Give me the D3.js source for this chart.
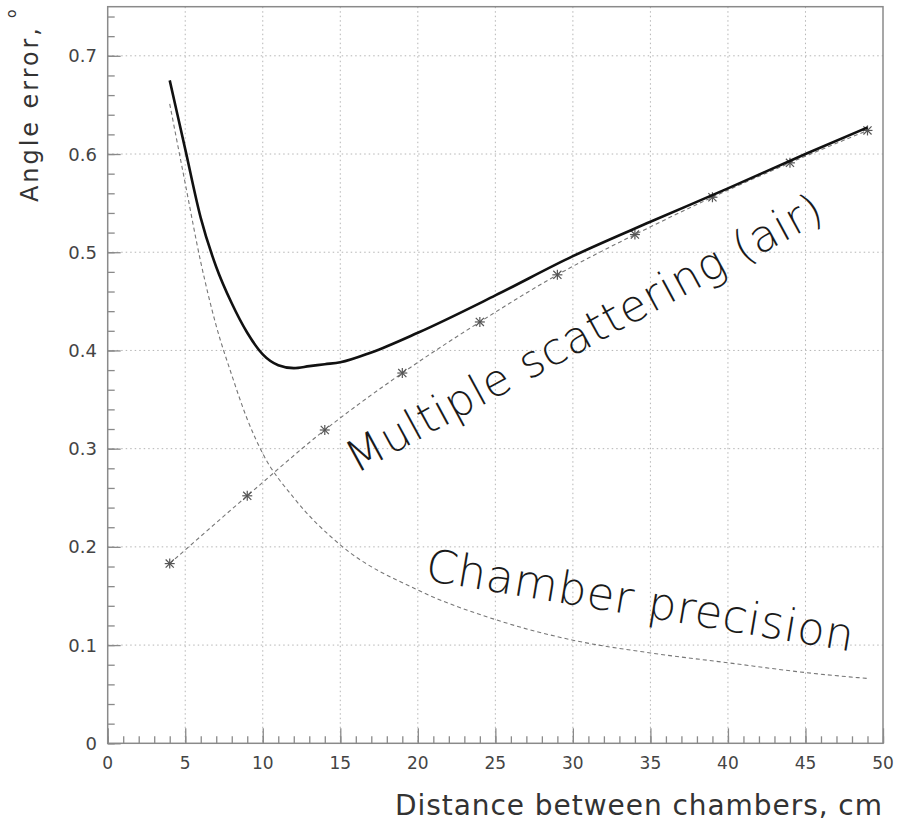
<html>
<head>
<script src="https://d3js.org/d3.v7.min.js"></script>
<style>
  body { margin: 0; background: #fff; }
  text { font-family: "DejaVu Sans", sans-serif; }
</style>
</head>
<body>
<script>
    // values
    const xTickValues = [0, 5, 10, 15, 20, 25, 30, 35, 40, 45, 50];
    const yTickValues = [0, 0.1, 0.2, 0.3, 0.4, 0.5, 0.6, 0.7];
    const yTickLabels = ["0", "0.1", "0.2", "0.3", "0.4", "0.5", "0.6", "0.7"];

    // multiple scattering (stars)
    const msX = [4, 9, 14, 19, 24, 29, 34, 39, 44, 49];
    const msVal = [0.183, 0.252, 0.319, 0.377, 0.429, 0.477, 0.518, 0.556, 0.591, 0.624];

    // chamber precision (dashed)
    const chX = [4, 5, 6, 7, 8, 9, 10, 12, 15, 20, 25, 30, 35, 40, 45, 49];
    const chVal = [0.651, 0.57, 0.49, 0.425, 0.375, 0.33, 0.295, 0.25, 0.202, 0.156, 0.126, 0.105, 0.092, 0.082, 0.072, 0.066];

    // total (solid)
    const totX = [4, 5, 6, 7, 8, 9, 10, 11, 12, 13, 14, 15, 17, 20, 25, 30, 35, 40, 45, 49];
    const totVal = [0.675, 0.605, 0.535, 0.485, 0.448, 0.418, 0.396, 0.385, 0.382, 0.384, 0.386, 0.388, 0.398, 0.418, 0.456, 0.496, 0.531, 0.565, 0.600, 0.627];

    let width = 899;
    let height = 822;
    let svg = d3.select("body").append("svg")
        .attr("width", width)
        .attr("height", height);

    let pLeft = 107.7, pRight = 883, pTop = 6.7, pBottom = 743.3;
    let x = d3.scaleLinear().domain([0, 50]).range([pLeft, pRight]);
    let y = d3.scaleLinear().domain([0, 0.75]).range([pBottom, pTop]);

    let axisColor = "#8a8a8a";

    // grid (dotted)
    svg.append("g").selectAll("line")
        .data(xTickValues.slice(1, -1))
        .join("line")
        .attr("x1", d => x(d)).attr("x2", d => x(d))
        .attr("y1", pTop).attr("y2", pBottom)
        .attr("stroke", "#b5b5b5").attr("stroke-dasharray", "1.5,3");
    svg.append("g").selectAll("line")
        .data(yTickValues.slice(1))
        .join("line")
        .attr("y1", d => y(d)).attr("y2", d => y(d))
        .attr("x1", pLeft).attr("x2", pRight)
        .attr("stroke", "#b5b5b5").attr("stroke-dasharray", "1.5,3");

    // frame
    svg.append("rect")
        .attr("x", pLeft).attr("y", pTop)
        .attr("width", pRight - pLeft).attr("height", pBottom - pTop)
        .attr("fill", "none").attr("stroke", axisColor).attr("stroke-width", 1.5);

    // x axis: ticks point inward
    let xAxis = svg.append("g").attr("transform", `translate(0,${pBottom})`);
    xAxis.append("g").call(d3.axisTop(x).tickValues(d3.range(0, 51, 1)).tickSize(7).tickFormat(""));
    xAxis.append("g").call(d3.axisTop(x).tickValues(xTickValues).tickSize(15).tickFormat(""));
    xAxis.selectAll(".domain").remove();
    xAxis.selectAll("line").attr("stroke", axisColor).attr("stroke-width", 1.3);
    svg.append("g").selectAll("text")
        .data(xTickValues)
        .join("text")
        .attr("x", d => x(d))
        .attr("y", 769)
        .attr("text-anchor", "middle")
        .attr("font-size", 17)
        .attr("fill", "#444")
        .text(d => d);

    // y axis
    let yAxis = svg.append("g").attr("transform", `translate(${pLeft},0)`);
    yAxis.append("g").call(d3.axisRight(y).tickValues(d3.range(0, 0.75, 0.02)).tickSize(7).tickFormat(""));
    yAxis.append("g").call(d3.axisRight(y).tickValues(yTickValues).tickSize(13).tickFormat(""));
    yAxis.selectAll(".domain").remove();
    yAxis.selectAll("line").attr("stroke", axisColor).attr("stroke-width", 1.3);
    svg.append("g").selectAll("text")
        .data(yTickValues)
        .join("text")
        .attr("x", 97)
        .attr("y", d => y(d) + 6.5)
        .attr("text-anchor", "end")
        .attr("font-size", 18)
        .attr("fill", "#444")
        .text((d, i) => yTickLabels[i]);

    // axis titles
    svg.append("text")
        .attr("transform", "translate(38,202) rotate(-90)")
        .attr("font-size", 24)
        .attr("fill", "#333")
        .attr("textLength", 174)
        .attr("lengthAdjust", "spacing")
        .text("Angle error,");
    svg.append("text")
        .attr("transform", "translate(16,18) rotate(-90)")
        .attr("font-size", 14)
        .attr("fill", "#333")
        .text("o");
    svg.append("text")
        .attr("x", 882)
        .attr("y", 815)
        .attr("text-anchor", "end")
        .attr("font-size", 28)
        .attr("fill", "#333")
        .attr("textLength", 487)
        .attr("lengthAdjust", "spacing")
        .text("Distance between chambers, cm");

    // curves
    let line = d3.line()
        .x(d => x(d[0]))
        .y(d => y(d[1]))
        .curve(d3.curveMonotoneX);

    svg.append("path")
        .datum(chX.map((v, i) => [v, chVal[i]]))
        .attr("d", line)
        .attr("fill", "none")
        .attr("stroke", "#777")
        .attr("stroke-width", 1.1)
        .attr("stroke-dasharray", "4,3");

    svg.append("path")
        .datum(msX.map((v, i) => [v, msVal[i]]))
        .attr("d", line)
        .attr("fill", "none")
        .attr("stroke", "#777")
        .attr("stroke-width", 1.1)
        .attr("stroke-dasharray", "4,3");

    // star markers (x + plus)
    let stars = svg.append("g").selectAll("g")
        .data(msX.map((v, i) => [v, msVal[i]]))
        .join("g")
        .attr("transform", d => `translate(${x(d[0])},${y(d[1])})`)
        .attr("stroke", "#555")
        .attr("stroke-width", 1.2);
    stars.append("path").attr("d", d3.symbol().type(d3.symbolTimes).size(45)).attr("fill", "none");
    stars.append("line").attr("x1", -5).attr("x2", 5);
    stars.append("line").attr("y1", -5).attr("y2", 5);

    svg.append("path")
        .datum(totX.map((v, i) => [v, totVal[i]]))
        .attr("d", line)
        .attr("fill", "none")
        .attr("stroke", "#111")
        .attr("stroke-width", 2.6);

    // in-plot labels
    svg.append("text")
        .attr("transform", "translate(356,474) rotate(-28.5)")
        .attr("font-size", 44)
        .attr("font-weight", 300)
        .attr("fill", "#1a1a1a")
        .attr("textLength", 535)
        .attr("lengthAdjust", "spacing")
        .text("Multiple scattering (air)");
    svg.append("text")
        .attr("transform", "translate(424,580) rotate(9.5)")
        .attr("font-size", 45)
        .attr("font-weight", 300)
        .attr("fill", "#1a1a1a")
        .attr("textLength", 433)
        .attr("lengthAdjust", "spacing")
        .text("Chamber precision");
</script>
</body>
</html>
